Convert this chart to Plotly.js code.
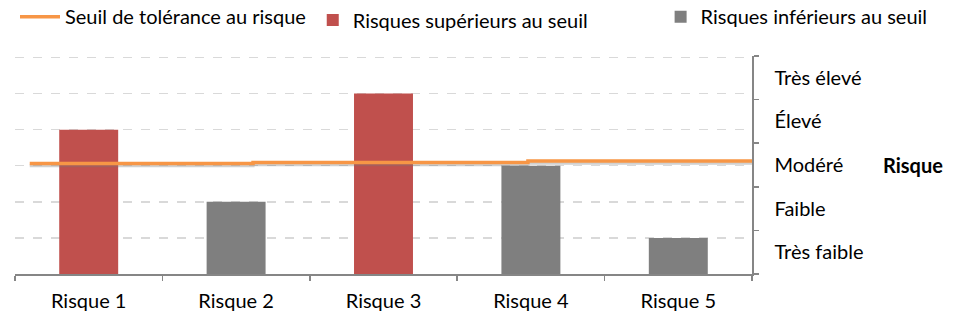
<!DOCTYPE html>
<html><head><meta charset="utf-8">
<script src="https://cdn.plot.ly/plotly-3.0.1.min.js"></script>
<style>html,body{margin:0;padding:0;background:#fff;}#chart{width:960px;height:333px;}</style>
</head><body><div id="chart"></div>
<script>
const categories = ["Risque 1", "Risque 2", "Risque 3", "Risque 4", "Risque 5"];
const superieurs = [4, null, 5, null, null];
const inferieurs = [null, 2, null, 3, 1];
const niveaux = ["Très faible", "Faible", "Modéré", "Élevé", "Très élevé"];
const niveauPos = [0.5, 1.5, 2.5, 3.5, 4.5];
const seuilX = [-0.4, 1.115, 1.115, 2.98, 2.98, 4.5];
const seuilY = [3.06, 3.06, 3.09, 3.09, 3.13, 3.13];

const FONT = "Lato, 'Open Sans', sans-serif";
const FS = 20;
const traces = [
  {type:'scatter', mode:'lines', x:seuilX, y:seuilY.map(v=>v-0.06), xaxis:'x2', yaxis:'y',
   line:{color:'rgba(120,120,120,0.35)', width:3}, showlegend:false, hoverinfo:'skip'},
  {type:'bar', name:'Risques supérieurs au seuil', x:categories, y:superieurs,
   marker:{color:'#C0504D'}, width:0.4, legend:'legend2'},
  {type:'bar', name:'Risques inférieurs au seuil', x:categories, y:inferieurs,
   marker:{color:'#7F7F7F'}, width:0.4, legend:'legend3'},
  {type:'scatter', mode:'lines', name:'Seuil de tolérance au risque', x:seuilX, y:seuilY,
   xaxis:'x2', yaxis:'y', line:{color:'#F79646', width:3.5}, legend:'legend'},
  {type:'scatter', mode:'markers', x:[null], y:[null], yaxis:'y2', showlegend:false, hoverinfo:'skip'}
];
const legendBase = {orientation:'h', xref:'paper', yref:'container', yanchor:'middle', xanchor:'left',
  font:{family:FONT, size:FS, color:'#000'}, bgcolor:'rgba(0,0,0,0)'};
const layout = {
  width:960, height:333,
  margin:{l:15, r:208, t:56, b:59},
  paper_bgcolor:'#fff', plot_bgcolor:'#fff',
  barmode:'overlay',
  font:{family:FONT, size:FS, color:'#000'},
  xaxis:{type:'category', showline:true, linecolor:'#868686', linewidth:1.5,
    ticks:'outside', tickson:'boundaries', ticklen:5, tickcolor:'#868686', tickwidth:1.5,
    showgrid:false, tickfont:{family:FONT, size:FS, color:'#000'}, range:[-0.5,4.5],
    ticklabelstandoff:8},
  xaxis2:{overlaying:'x', range:[-0.5,4.5], visible:false},
  yaxis:{range:[0,6.04], dtick:1, tick0:0, showticklabels:false, ticks:'', showline:false,
    showgrid:true, gridcolor:'#D9D9D9', griddash:'dash', gridwidth:1.5, zeroline:false},
  yaxis2:{overlaying:'y', side:'right', range:[0,5], tickmode:'array', tickvals:niveauPos,
    ticktext:niveaux, ticks:'', showline:true, linecolor:'#868686', linewidth:1.5,
    showgrid:false, zeroline:false, ticklabelstandoff:17,
    tickfont:{family:FONT, size:FS, color:'#000'},
    minor:{tick0:0, dtick:1, ticks:'outside', ticklen:5, tickcolor:'#868686', tickwidth:1.5, showgrid:false}},
  legend:Object.assign({}, legendBase, {x:0.0, y:0.95, itemwidth:40}),
  legend2:Object.assign({}, legendBase, {x:0.404, y:0.94}),
  legend3:Object.assign({}, legendBase, {x:0.876, y:0.95}),
  annotations:[{text:'<b>Risque</b>', xref:'paper', yref:'paper', x:1.175, y:0.5, xanchor:'left', yanchor:'middle',
    showarrow:false, font:{family:FONT, size:FS, color:'#000'}}]
};
Plotly.newPlot('chart', traces, layout, {displayModeBar:false, staticPlot:true});
</script></body></html>
